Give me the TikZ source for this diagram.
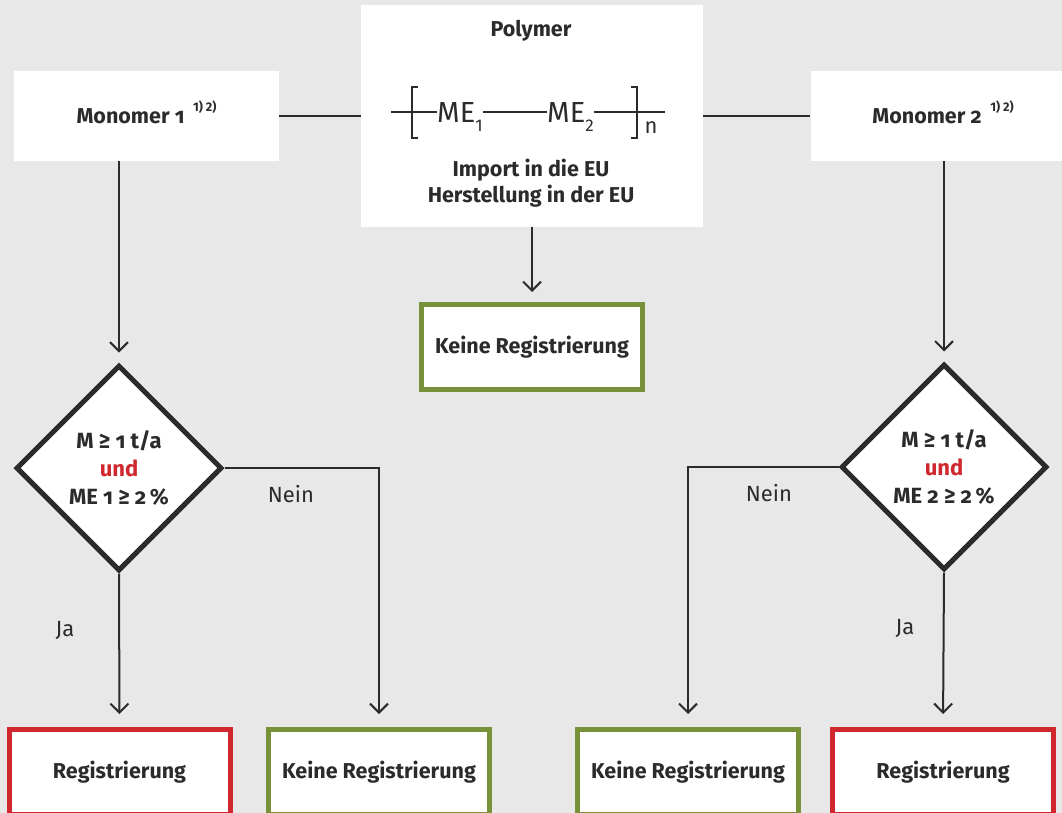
\documentclass[tikz,border=0pt]{standalone}
\usepackage{fontspec}
\setmainfont{Fira Sans}[Numbers=OldStyle]
\usetikzlibrary{shapes.geometric,arrows.meta}
\definecolor{bggrey}{HTML}{E8E8E8}
\definecolor{ink}{HTML}{2B2B2B}
\definecolor{regred}{HTML}{D0282E}
\definecolor{okgreen}{HTML}{779238}
\newcommand{\lab}{\fontsize{21.5}{26}\selectfont}
\newcommand{\idx}[1]{\raisebox{-0.3em}{\fontsize{17}{17}\selectfont\addfontfeatures{Numbers=Lining}#1}}
\newcommand{\fn}{\hspace{0.4em}\smash{\raisebox{0.55em}{\fontsize{12.5}{12.5}\selectfont\addfontfeatures{Numbers=Lining}1) 2)}}}
\begin{document}
\begin{tikzpicture}[x=1pt,y=-1pt,
    whitebox/.style={fill=white,inner sep=0pt,text=ink,font=\lab\bfseries},
    regbox/.style={whitebox,draw=regred,line width=5pt,minimum width=221pt,minimum height=85pt},
    keinebox/.style={whitebox,draw=okgreen,line width=5pt,minimum width=221pt,minimum height=85pt},
    test/.style={diamond,draw=ink,fill=white,line width=5pt,minimum width=206pt,minimum height=206pt,
        inner sep=0pt,align=center,text=ink,font=\fontsize{22}{28}\selectfont\bfseries},
    conn/.style={draw=ink,line width=2pt},
    unit/.style={text=ink,font=\fontsize{29}{29}\selectfont,inner sep=0pt,anchor=base west},
    answer/.style={text=ink,font=\fontsize{22}{26}\selectfont},
    >={Straight Barb[length=9pt,width=18pt]}]
\fill[bggrey] (0,0) rectangle (1062,813);
\useasboundingbox (0,0) rectangle (1062,813);
% top row
\node[whitebox,minimum width=265pt,minimum height=90pt] (mono1) at (146.5,116) {Monomer 1\fn};
\node[whitebox,minimum width=265pt,minimum height=90pt] (mono2) at (943,116) {Monomer 2\fn};
\node[whitebox,minimum width=342pt,minimum height=221pt] (poly) at (532,116) {};
\node[text=ink,font=\lab\bfseries] (polytitle) at (531,31) {Polymer};
\node[unit] (me1) at (437,123) {ME\idx{1}};
\node[unit] (me2) at (547,123) {ME\idx{2}};
\node[text=ink,font=\fontsize{22}{22}\selectfont] (n) at (651,128) {n};
\draw[conn,line width=1.5pt] (391,112) -- (me1.west|-0,112);
\draw[conn,line width=1.5pt] (me1.east|-0,112) -- (me2.west|-0,112);
\draw[conn,line width=1.5pt] (me2.east|-0,112) -- (665,112);
\draw[conn,line width=1.5pt] (418,87) -- (412,87) -- (412,138) -- (418,138);
\draw[conn,line width=1.5pt] (631,87) -- (637,87) -- (637,138) -- (631,138);
\node[text=ink,font=\lab\bfseries,align=center] (origin) at (531,183) {Import in die EU\\Herstellung in der EU};
\node[keinebox] (kr0) at (532,347) {Keine Registrierung};
% decisions
\node[test] (dia1) at (119,468) {M ≥ 1 t/a\\\textcolor{regred}{und}\\ME 1 ≥ 2\,\%};
\node[test] (dia2) at (944,467) {M ≥ 1 t/a\\\textcolor{regred}{und}\\ME 2 ≥ 2\,\%};
% results
\node[regbox] (reg1) at (119.5,772) {Registrierung};
\node[keinebox] (kr1) at (379,772) {Keine Registrierung};
\node[keinebox] (kr2) at (688,772) {Keine Registrierung};
\node[regbox] (reg2) at (943,772) {Registrierung};
% connectors
\draw[conn] (mono1.east) -- (poly.west);
\draw[conn] (poly.east) -- (mono2.west);
\draw[conn,->,shorten >=10pt] (poly.south) -- (kr0.north);
\draw[conn,->,shorten >=10pt] (mono1.south-|dia1.north) -- (dia1.north);
\draw[conn,->,shorten >=10pt] (mono2.south-|dia2.north) -- (dia2.north);
\draw[conn,->,shorten >=13pt] (dia1.south) -- (reg1.north);
\draw[conn,->,shorten >=13pt] (dia1.east) -| (kr1.north);
\draw[conn,->,shorten >=13pt] (dia2.south) -- (reg2.north);
\draw[conn,->,shorten >=13pt] (dia2.west) -| (kr2.north);
\node[answer] (nein1) at (291,494) {Nein};
\node[answer] (ja1) at (65,630) {Ja};
\node[answer] (nein2) at (769,493) {Nein};
\node[answer] (ja2) at (905,628) {Ja};
\end{tikzpicture}
\end{document}
